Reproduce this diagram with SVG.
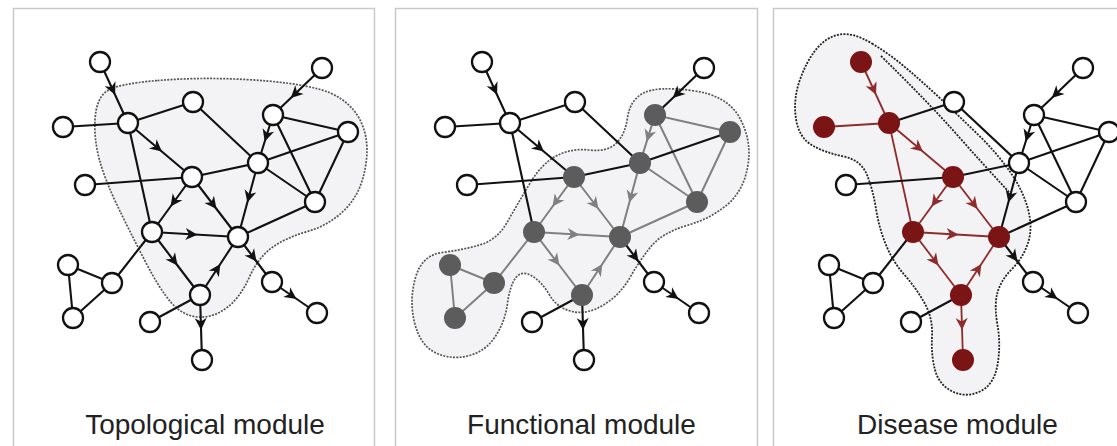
<svg xmlns="http://www.w3.org/2000/svg" width="1117" height="446" viewBox="0 0 1117 446">
<style>
.frame{fill:#ffffff;stroke:#c9c9c9;stroke-width:1.5}
.hull{fill:#f3f3f5;stroke:#555;stroke-width:1.7;stroke-dasharray:2 1.3}
.hull3{fill:#f3f3f5;stroke:#222;stroke-width:1.8;stroke-dasharray:2 1.3}
.xline{fill:none;stroke:#222;stroke-width:1.8;stroke-dasharray:2 1.3}
.e{fill:none;stroke:#111;stroke-width:2.1}
.ea{fill:none;stroke:#111;stroke-width:2.1;marker-mid:url(#ak)}
.g{fill:none;stroke:#808080;stroke-width:2}
.ga{fill:none;stroke:#808080;stroke-width:2;marker-mid:url(#ag)}
.r{fill:none;stroke:#8e2b2b;stroke-width:1.8}
.ra{fill:none;stroke:#8e2b2b;stroke-width:1.8;marker-mid:url(#ar)}
.w{fill:#fff;stroke:#111;stroke-width:2.3}
.fg{fill:#5c5c5c}
.fr{fill:#7b1414}
.lbl{font-family:"Liberation Sans",Arial,sans-serif;font-size:28px;fill:#222;text-anchor:middle}
</style>
<defs>
<marker id="ak" markerUnits="userSpaceOnUse" markerWidth="26" markerHeight="26" refX="0" refY="0" viewBox="-13 -13 26 26" orient="auto"><path d="M-9.5,-6 L2.5,0 L-9.5,6 L-6,0 Z" fill="#111"/></marker>
<marker id="ag" markerUnits="userSpaceOnUse" markerWidth="26" markerHeight="26" refX="0" refY="0" viewBox="-13 -13 26 26" orient="auto"><path d="M-9.5,-6 L2.5,0 L-9.5,6 L-6,0 Z" fill="#808080"/></marker>
<marker id="ar" markerUnits="userSpaceOnUse" markerWidth="26" markerHeight="26" refX="0" refY="0" viewBox="-13 -13 26 26" orient="auto"><path d="M-9.5,-6 L2.5,0 L-9.5,6 L-6,0 Z" fill="#8e2b2b"/></marker>
</defs>
<rect width="1117" height="446" fill="#fff"/>
<rect class="frame" x="13.5" y="8.5" width="361" height="450" fill="#fff"/>
<rect class="frame" x="395.5" y="8.5" width="362" height="450" fill="#fff"/>
<rect class="frame" x="773.5" y="8.5" width="360" height="450" fill="#fff"/>

<!-- Panel 1 -->
<g id="panel1">
<path class="hull" d="M157.5,80.5 Q200,77 246,79.5 Q292,82 318.5,89 Q345,96 357.5,115.5 Q370,135 366,163.5 Q362,192 346,208.5 Q330,225 307.5,231.5 Q285,238 271.5,248 Q258,258 249,278 Q240,298 226.5,308 Q213,318 198,317 Q183,316 171.5,303 Q160,290 145,261 Q130,232 117.5,206 Q105,180 99.5,160 Q94,140 95,120 Q96,100 105.5,92 Q115,84 157.5,80.5 Z"/>
<g id="p1-connectors">
<path class="ea" d="M100,62 L114,92.5 L128,123"/>
<path class="e" d="M63,127 L128,123"/>
<path class="e" d="M128,123 L193,102"/>
<path class="e" d="M193,102 L258,163"/>
<path class="ea" d="M128,123 L160,150 L192,177"/>
<path class="e" d="M128,123 L152,232"/>
<path class="e" d="M85,185 L192,177"/>
<path class="e" d="M192,177 L258,163"/>
<path class="ea" d="M192,177 L172,204.5 L152,232"/>
<path class="ea" d="M192,177 L215,207 L238,237"/>
<path class="ea" d="M258,163 L248,200 L238,237"/>
<path class="ea" d="M322,68 L292.6,96.2 L273,115"/>
<path class="ea" d="M273,115 L265.5,139 L258,163"/>
<path class="e" d="M273,115 L348,132"/>
<path class="e" d="M273,115 L315,202"/>
<path class="e" d="M258,163 L348,132"/>
<path class="e" d="M258,163 L315,202"/>
<path class="e" d="M348,132 L315,202"/>
<path class="e" d="M315,202 L238,237"/>
<path class="ea" d="M152,232 L195,234.5 L238,237"/>
<path class="ea" d="M152,232 L176,263.5 L200,295"/>
<path class="ea" d="M200,295 L219,266 L238,237"/>
<path class="e" d="M152,232 L112,283"/>
<path class="e" d="M68,265 L112,283"/>
<path class="e" d="M68,265 L73,318"/>
<path class="e" d="M112,283 L73,318"/>
<path class="e" d="M150,322 L200,295"/>
<path class="ea" d="M200,295 L201,327.5 L202,360"/>
<path class="ea" d="M238,237 L255,259.5 L272,282"/>
<path class="ea" d="M272,282 L294.5,297.5 L317,313"/>
</g>
<g id="p1-A"><circle class="w" cx="100" cy="62" r="10"/></g>
<g id="p1-B"><circle class="w" cx="128" cy="123" r="10"/></g>
<g id="p1-C"><circle class="w" cx="193" cy="102" r="10"/></g>
<g id="p1-D"><circle class="w" cx="63" cy="127" r="10"/></g>
<g id="p1-E"><circle class="w" cx="322" cy="68" r="10"/></g>
<g id="p1-F"><circle class="w" cx="273" cy="115" r="10"/></g>
<g id="p1-G"><circle class="w" cx="348" cy="132" r="10"/></g>
<g id="p1-H"><circle class="w" cx="258" cy="163" r="10"/></g>
<g id="p1-I"><circle class="w" cx="192" cy="177" r="10"/></g>
<g id="p1-J"><circle class="w" cx="85" cy="185" r="10"/></g>
<g id="p1-K"><circle class="w" cx="315" cy="202" r="10"/></g>
<g id="p1-L"><circle class="w" cx="152" cy="232" r="10"/></g>
<g id="p1-M"><circle class="w" cx="238" cy="237" r="10"/></g>
<g id="p1-N"><circle class="w" cx="68" cy="265" r="10"/></g>
<g id="p1-O"><circle class="w" cx="112" cy="283" r="10"/></g>
<g id="p1-P"><circle class="w" cx="73" cy="318" r="10"/></g>
<g id="p1-Q"><circle class="w" cx="200" cy="295" r="10"/></g>
<g id="p1-R"><circle class="w" cx="150" cy="322" r="10"/></g>
<g id="p1-S"><circle class="w" cx="202" cy="360" r="10"/></g>
<g id="p1-T"><circle class="w" cx="272" cy="282" r="10"/></g>
<g id="p1-U"><circle class="w" cx="317" cy="313" r="10"/></g>
<text class="lbl" x="205" y="434">Topological module</text>
</g>

<!-- Panel 2 -->
<g id="panel2" transform="translate(382,0)">
<path class="hull" d="M310,90.5 Q345,95 357.5,117.5 Q370,140 366,165 Q362,190 346,204 Q330,218 305,225.5 Q280,233 269,246.5 Q258,260 248,277.5 Q238,295 221.5,305 Q205,315 190,311.5 Q175,308 167.5,295 Q160,282 150,276 Q140,270 134,277.5 Q128,285 125.5,303.5 Q123,322 113,337 Q103,352 85.5,356 Q68,360 53,352.5 Q38,345 32.5,322.5 Q27,300 33.5,277.5 Q40,255 60,252.5 Q80,250 97.5,245 Q115,240 125,222.5 Q135,205 147.5,184 Q160,163 175,155.5 Q190,148 207.5,150 Q225,152 234,143.5 Q243,135 245.5,117.5 Q248,100 261.5,93 Q275,86 310,90.5 Z"/>
<g id="p2-connectors">
<path class="ea" d="M100,62 L114,92.5 L128,123"/>
<path class="e" d="M63,127 L128,123"/>
<path class="e" d="M128,123 L193,102"/>
<path class="e" d="M193,102 L258,163"/>
<path class="ea" d="M128,123 L160,150 L192,177"/>
<path class="e" d="M128,123 L152,232"/>
<path class="e" d="M85,185 L192,177"/>
<path class="e" d="M192,177 L258,163"/>
<path class="ga" d="M192,177 L172,204.5 L152,232"/>
<path class="ga" d="M192,177 L215,207 L238,237"/>
<path class="ga" d="M258,163 L248,200 L238,237"/>
<path class="ea" d="M322,68 L292.6,96.2 L273,115"/>
<path class="ga" d="M273,115 L265.5,139 L258,163"/>
<path class="g" d="M273,115 L348,132"/>
<path class="g" d="M273,115 L315,202"/>
<path class="e" d="M258,163 L348,132"/>
<path class="g" d="M258,163 L315,202"/>
<path class="g" d="M348,132 L315,202"/>
<path class="g" d="M315,202 L238,237"/>
<path class="ga" d="M152,232 L195,234.5 L238,237"/>
<path class="ga" d="M152,232 L176,263.5 L200,295"/>
<path class="ga" d="M200,295 L219,266 L238,237"/>
<path class="g" d="M152,232 L112,283"/>
<path class="g" d="M68,265 L112,283"/>
<path class="g" d="M68,265 L73,318"/>
<path class="g" d="M112,283 L73,318"/>
<path class="e" d="M150,322 L200,295"/>
<path class="ea" d="M200,295 L201,327.5 L202,360"/>
<path class="ea" d="M238,237 L255,259.5 L272,282"/>
<path class="ea" d="M272,282 L294.5,297.5 L317,313"/>
</g>
<g id="p2-A"><circle class="w" cx="100" cy="62" r="10"/></g>
<g id="p2-B"><circle class="w" cx="128" cy="123" r="10"/></g>
<g id="p2-C"><circle class="w" cx="193" cy="102" r="10"/></g>
<g id="p2-D"><circle class="w" cx="63" cy="127" r="10"/></g>
<g id="p2-E"><circle class="w" cx="322" cy="68" r="10"/></g>
<g id="p2-F"><circle class="fg" cx="273" cy="115" r="11"/></g>
<g id="p2-G"><circle class="fg" cx="348" cy="132" r="11"/></g>
<g id="p2-H"><circle class="fg" cx="258" cy="163" r="11"/></g>
<g id="p2-I"><circle class="fg" cx="192" cy="177" r="11"/></g>
<g id="p2-J"><circle class="w" cx="85" cy="185" r="10"/></g>
<g id="p2-K"><circle class="fg" cx="315" cy="202" r="11"/></g>
<g id="p2-L"><circle class="fg" cx="152" cy="232" r="11"/></g>
<g id="p2-M"><circle class="fg" cx="238" cy="237" r="11"/></g>
<g id="p2-N"><circle class="fg" cx="68" cy="265" r="11"/></g>
<g id="p2-O"><circle class="fg" cx="112" cy="283" r="11"/></g>
<g id="p2-P"><circle class="fg" cx="73" cy="318" r="11"/></g>
<g id="p2-Q"><circle class="fg" cx="200" cy="295" r="11"/></g>
<g id="p2-R"><circle class="w" cx="150" cy="322" r="10"/></g>
<g id="p2-S"><circle class="w" cx="202" cy="360" r="10"/></g>
<g id="p2-T"><circle class="w" cx="272" cy="282" r="10"/></g>
<g id="p2-U"><circle class="w" cx="317" cy="313" r="10"/></g>
<text class="lbl" x="199.5" y="434">Functional module</text>
</g>

<!-- Panel 3 -->
<g id="panel3" transform="translate(761,0)">
<path class="hull3" d="M111,43.5 Q130,55 147.5,70 Q165,85 182.5,101.5 Q200,118 217.5,135 Q235,152 248.5,171 Q262,190 267,209 Q272,228 267,243 Q262,258 251,269 Q240,280 236.5,292.5 Q233,305 236.5,325 Q240,345 236.5,365 Q233,385 219,391.5 Q205,398 191.5,391.5 Q178,385 174,370 Q170,355 171,336.5 Q172,318 163.5,303 Q155,288 143.5,275 Q132,262 125,245 Q118,228 115,209 Q112,190 106,175 Q100,160 82.5,156.5 Q65,153 51.5,145.5 Q38,138 35,119 Q32,100 38.5,81 Q45,62 55,49.5 Q65,37 78.5,34.5 Q92,32 111,43.5 Z"/>
<path class="xline" d="M120,56 Q160,95 190,128 Q220,162 248,192"/>
<g id="p3-connectors">
<path class="ra" d="M100,62 L114,92.5 L128,123"/>
<path class="r" d="M63,127 L128,123"/>
<path class="e" d="M128,123 L193,102"/>
<path class="e" d="M193,102 L258,163"/>
<path class="ra" d="M128,123 L160,150 L192,177"/>
<path class="r" d="M128,123 L152,232"/>
<path class="e" d="M85,185 L192,177"/>
<path class="e" d="M192,177 L258,163"/>
<path class="ra" d="M192,177 L172,204.5 L152,232"/>
<path class="ra" d="M192,177 L215,207 L238,237"/>
<path class="ea" d="M258,163 L248,200 L238,237"/>
<path class="ea" d="M322,68 L292.6,96.2 L273,115"/>
<path class="ea" d="M273,115 L265.5,139 L258,163"/>
<path class="e" d="M273,115 L348,132"/>
<path class="e" d="M273,115 L315,202"/>
<path class="e" d="M258,163 L348,132"/>
<path class="e" d="M258,163 L315,202"/>
<path class="e" d="M348,132 L315,202"/>
<path class="e" d="M315,202 L238,237"/>
<path class="ra" d="M152,232 L195,234.5 L238,237"/>
<path class="ra" d="M152,232 L176,263.5 L200,295"/>
<path class="ra" d="M200,295 L219,266 L238,237"/>
<path class="e" d="M152,232 L112,283"/>
<path class="e" d="M68,265 L112,283"/>
<path class="e" d="M68,265 L73,318"/>
<path class="e" d="M112,283 L73,318"/>
<path class="e" d="M150,322 L200,295"/>
<path class="ra" d="M200,295 L201,327.5 L202,360"/>
<path class="ea" d="M238,237 L255,259.5 L272,282"/>
<path class="ea" d="M272,282 L294.5,297.5 L317,313"/>
</g>
<g id="p3-A"><circle class="fr" cx="100" cy="62" r="11"/></g>
<g id="p3-B"><circle class="fr" cx="128" cy="123" r="11"/></g>
<g id="p3-C"><circle class="w" cx="193" cy="102" r="10"/></g>
<g id="p3-D"><circle class="fr" cx="63" cy="127" r="11"/></g>
<g id="p3-E"><circle class="w" cx="322" cy="68" r="10"/></g>
<g id="p3-F"><circle class="w" cx="273" cy="115" r="10"/></g>
<g id="p3-G"><circle class="w" cx="348" cy="132" r="10"/></g>
<g id="p3-H"><circle class="w" cx="258" cy="163" r="10"/></g>
<g id="p3-I"><circle class="fr" cx="192" cy="177" r="11"/></g>
<g id="p3-J"><circle class="w" cx="85" cy="185" r="10"/></g>
<g id="p3-K"><circle class="w" cx="315" cy="202" r="10"/></g>
<g id="p3-L"><circle class="fr" cx="152" cy="232" r="11"/></g>
<g id="p3-M"><circle class="fr" cx="238" cy="237" r="11"/></g>
<g id="p3-N"><circle class="w" cx="68" cy="265" r="10"/></g>
<g id="p3-O"><circle class="w" cx="112" cy="283" r="10"/></g>
<g id="p3-P"><circle class="w" cx="73" cy="318" r="10"/></g>
<g id="p3-Q"><circle class="fr" cx="200" cy="295" r="11"/></g>
<g id="p3-R"><circle class="w" cx="150" cy="322" r="10"/></g>
<g id="p3-S"><circle class="fr" cx="202" cy="360" r="11"/></g>
<g id="p3-T"><circle class="w" cx="272" cy="282" r="10"/></g>
<g id="p3-U"><circle class="w" cx="317" cy="313" r="10"/></g>
<text class="lbl" x="196.5" y="434">Disease module</text>
</g>
</svg>
